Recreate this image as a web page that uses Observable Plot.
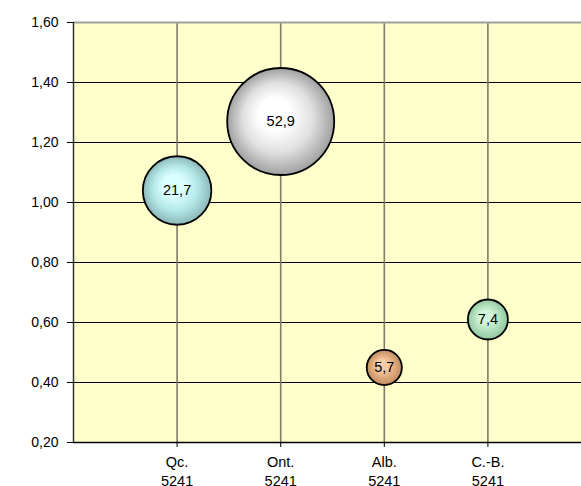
<!DOCTYPE html>
<html>
<head>
<meta charset="utf-8">
<script src="https://cdn.jsdelivr.net/npm/d3@7"></script>
<script src="https://cdn.jsdelivr.net/npm/@observablehq/plot@0.6"></script>
<style>
  html, body { margin: 0; padding: 0; background: #ffffff; overflow: hidden; }
  #chart svg { display: block; }
</style>
</head>
<body>
<div id="chart"></div>
<script>
const categories = ["Qc.", "Ont.", "Alb.", "C.-B."];
const codes = ["5241", "5241", "5241", "5241"];
const yValues = [1.04, 1.27, 0.45, 0.61];
const sizes = [21.7, 52.9, 5.7, 7.4];
const yTicks = [0.2, 0.4, 0.6, 0.8, 1.0, 1.2, 1.4, 1.6];
const gradIds = ["gQc", "gOnt", "gAlb", "gCB"];
const gradColors = [
  ["#dcffff", "#b4e8e8", "#8cb8b8"],
  ["#ffffff", "#e0e0e0", "#a0a0a0"],
  ["#f6cca4", "#e0aa7c", "#c08c60"],
  ["#d2f4da", "#b2e0bc", "#90c6a0"]
];

const data = categories.map((c, i) => ({
  x: i + 1, cat: c, code: codes[i], y: yValues[i], size: sizes[i], grad: gradIds[i]
}));

const fmt = d => d.toFixed(2).replace(".", ",");
const fmt1 = d => d.toFixed(1).replace(".", ",");

const W = 581, H = 486, mL = 73, mR = 0, mT = 22, mB = 44;
const step = 103.6;

const chart = Plot.plot({
  width: W, height: H,
  marginLeft: mL, marginRight: mR, marginTop: mT, marginBottom: mB,
  style: { fontFamily: "'Liberation Sans', Arial, sans-serif", fontSize: "13px", color: "#000", background: "#ffffff", overflow: "hidden" },
  x: { domain: [0, (W - mL - mR) / step], axis: null },
  y: { domain: [0.2, 1.6], axis: null },
  r: { domain: [0, 52.9], range: [0, 53.5] },
  marks: [
    Plot.frame({ fill: "#ffffcc", stroke: null }),
    Plot.ruleY(yTicks.filter(t => t > 0.2 && t < 1.6), { stroke: "#000", strokeWidth: 1.2 }),
    Plot.ruleX(data, { x: "x", stroke: "#7c7c6c", strokeWidth: 1.6 }),
    Plot.ruleY([1.6], { stroke: "#a0a0a0", strokeWidth: 2 }),
    Plot.ruleX([0], { stroke: "#333", strokeWidth: 1.5 }),
    Plot.ruleY([0.2], { stroke: "#000", strokeWidth: 1.5 }),
    Plot.axisY({ ticks: yTicks, tickFormat: fmt, tickSize: 6, tickPadding: 9, stroke: "#000", fontSize: 14, label: null }),
    Plot.axisX({ ticks: [1, 2, 3, 4], tickFormat: d => categories[d - 1] + "\n" + codes[d - 1], tickSize: 5, tickPadding: 6, fontSize: 14.5, lineHeight: 1.3, label: null }),
    Plot.dot(data, { x: "x", y: "y", r: "size", fill: d => `url(#${d.grad})`, stroke: "#000", strokeWidth: 1.8 }),
    Plot.text(data, { x: "x", y: "y", text: d => fmt1(d.size), fill: "#000", fontSize: 14.5 })
  ]
});

const svg = d3.select(chart);
const defs = svg.insert("defs", ":first-child");
gradIds.forEach((id, i) => {
  const g = defs.append("radialGradient").attr("id", id)
    .attr("cx", "0.5").attr("cy", "0.5").attr("r", "0.5").attr("fx", "0.42").attr("fy", "0.4");
  const c = gradColors[i];
  g.append("stop").attr("offset", "0%").attr("stop-color", c[0]);
  g.append("stop").attr("offset", "30%").attr("stop-color", c[0]);
  g.append("stop").attr("offset", "65%").attr("stop-color", c[1]);
  g.append("stop").attr("offset", "100%").attr("stop-color", c[2]);
});

document.getElementById("chart").appendChild(chart);
</script>
</body>
</html>
